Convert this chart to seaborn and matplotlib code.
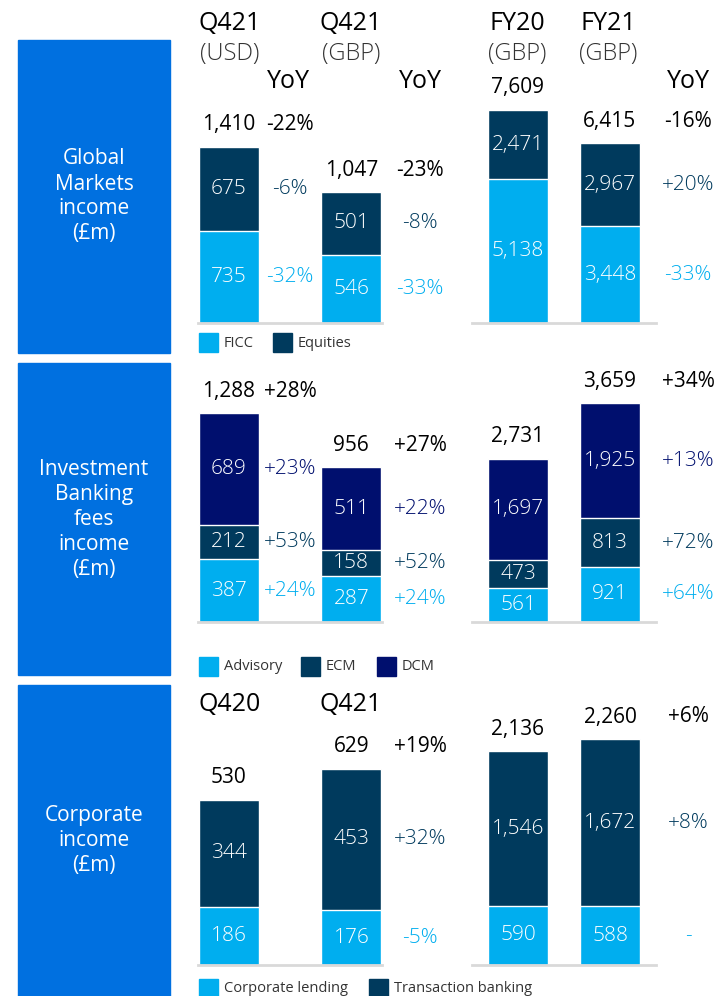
import numpy as np
import pandas as pd
import matplotlib
matplotlib.use("Agg")
import matplotlib.pyplot as plt
from matplotlib.patches import Rectangle
import seaborn as sns

W, H = 715, 996

# cores
LIGHT = "#00AEEF"
NAVY = "#003A5D"
DCM_BLUE = "#000F6E"
BOX_BLUE = "#0070E0"
BASE_GREY = "#D9D9D9"

# Global Markets
GM_Q_PERIODS = ["Q421 (USD)", "Q421 (GBP)"]
GM_Q_FICC = [735, 546]
GM_Q_EQUITIES = [675, 501]
GM_Q_TOTAL = [1410, 1047]
GM_Q_YOY_USD = ["-32%", "-6%", "-22%"]   # FICC, Equities, total
GM_Q_YOY_GBP = ["-33%", "-8%", "-23%"]
GM_FY_PERIODS = ["FY20", "FY21"]
GM_FY_FICC = [5138, 3448]
GM_FY_EQUITIES = [2471, 2967]
GM_FY_TOTAL = [7609, 6415]
GM_FY_YOY = ["-33%", "+20%", "-16%"]

# Investment Banking fees
IB_Q_ADVISORY = [387, 287]
IB_Q_ECM = [212, 158]
IB_Q_DCM = [689, 511]
IB_Q_TOTAL = [1288, 956]
IB_Q_YOY_USD = ["+24%", "+53%", "+23%", "+28%"]   # Advisory, ECM, DCM, total
IB_Q_YOY_GBP = ["+24%", "+52%", "+22%", "+27%"]
IB_FY_ADVISORY = [561, 921]
IB_FY_ECM = [473, 813]
IB_FY_DCM = [1697, 1925]
IB_FY_TOTAL = [2731, 3659]
IB_FY_YOY = ["+64%", "+72%", "+13%", "+34%"]

# Corporate
CO_Q_PERIODS = ["Q420", "Q421"]
CO_Q_LENDING = [186, 176]
CO_Q_TRANSACTION = [344, 453]
CO_Q_TOTAL = [530, 629]
CO_Q_YOY = ["-5%", "+32%", "+19%"]   # lending, transaction, total
CO_FY_LENDING = [590, 588]
CO_FY_TRANSACTION = [1546, 1672]
CO_FY_TOTAL = [2136, 2260]
CO_FY_YOY = ["-", "+8%", "+6%"]

sns.set_style("white")
plt.rcParams["font.family"] = ["Open Sans", "DejaVu Sans"]

fig = plt.figure(figsize=(W / 100, H / 100), dpi=100)


def fx(x):
    return x / W


def fy(y):
    return 1 - y / H


def draw_panel(x0, base, scale, xlim, width, cats, segments, colors, totals, yoy_sets, h=300):
    ax = fig.add_axes([fx(x0), fy(base), 184 / W, h / H])
    ax.patch.set_visible(False)
    cum = np.cumsum(np.array(segments), axis=0)
    # barras empilhadas: total primeiro, depois as partes de baixo por cima
    for i in reversed(range(len(segments))):
        df = pd.DataFrame({"period": cats, "value": cum[i]})
        sns.barplot(data=df, x="period", y="value", color=colors[i], width=width,
                    saturation=1, errorbar=None, edgecolor="white", linewidth=1, ax=ax)
    for j in range(len(cats)):
        for i, seg in enumerate(segments):
            mid = cum[i][j] - seg[j] / 2
            ax.text(j, mid, f"{seg[j]:,}", color="white", ha="center", va="center",
                    fontsize=15, fontweight="light")
        ax.annotate(f"{totals[j]:,}", (j, totals[j]), xytext=(0, 22), annotation_clip=False,
                    textcoords="offset pixels", ha="center", va="center", fontsize=15, color="black")
    for j, xpos, labels in yoy_sets:
        for i, seg in enumerate(segments):
            mid = cum[i][j] - seg[j] / 2
            ax.text(xpos, mid, labels[i], color=colors[i], ha="center", va="center",
                    fontsize=15, fontweight="light")
        ax.annotate(labels[-1], (xpos, totals[j]), xytext=(0, 22), annotation_clip=False,
                    textcoords="offset pixels", ha="center", va="center", fontsize=15, color="black")
    ax.set_xlim(*xlim)
    ax.set_ylim(0, h / scale)
    for s in ["top", "left", "right"]:
        ax.spines[s].set_visible(False)
    ax.spines["bottom"].set_color(BASE_GREY)
    ax.spines["bottom"].set_linewidth(2)
    ax.set_xticks([])
    ax.set_yticks([])
    ax.set_xlabel("")
    ax.set_ylabel("")
    return ax


LEFT_X, LEFT_LIM, LEFT_W = 198, (-0.25, 1.25), 0.49
RIGHT_X, RIGHT_LIM, RIGHT_W = 472, (-0.5, 1.5), 0.652
YOY_A, YOY_B, YOY_R = 0.5, 1.56, 1.85

# caixas azuis da esquerda
for top, bottom, label in [(40, 353, "Global\nMarkets\nincome\n(£m)"),
                           (363, 675, "Investment\nBanking\nfees\nincome\n(£m)"),
                           (685, 996, "Corporate\nincome\n(£m)")]:
    fig.patches.append(Rectangle((fx(18), fy(bottom)), 152 / W, (bottom - top) / H,
                                 transform=fig.transFigure, color=BOX_BLUE, zorder=0))
    fig.text(fx(94), fy((top + bottom) / 2), label, color="white", ha="center", va="center",
             fontsize=15, linespacing=1.25)

# linha 1: Global Markets
gm_colors = [LIGHT, NAVY]
draw_panel(LEFT_X, 323, 0.125, LEFT_LIM, LEFT_W, GM_Q_PERIODS, [GM_Q_FICC, GM_Q_EQUITIES],
           gm_colors, GM_Q_TOTAL, [(0, YOY_A, GM_Q_YOY_USD), (1, YOY_B, GM_Q_YOY_GBP)])
draw_panel(RIGHT_X, 323, 0.028, RIGHT_LIM, RIGHT_W, GM_FY_PERIODS, [GM_FY_FICC, GM_FY_EQUITIES],
           gm_colors, GM_FY_TOTAL, [(1, YOY_R, GM_FY_YOY)])

# linha 2: Investment Banking
ib_colors = [LIGHT, NAVY, DCM_BLUE]
draw_panel(LEFT_X, 622, 0.162, LEFT_LIM, LEFT_W, GM_Q_PERIODS, [IB_Q_ADVISORY, IB_Q_ECM, IB_Q_DCM],
           ib_colors, IB_Q_TOTAL, [(0, YOY_A, IB_Q_YOY_USD), (1, YOY_B, IB_Q_YOY_GBP)])
draw_panel(RIGHT_X, 622, 0.0598, RIGHT_LIM, RIGHT_W, GM_FY_PERIODS, [IB_FY_ADVISORY, IB_FY_ECM, IB_FY_DCM],
           ib_colors, IB_FY_TOTAL, [(1, YOY_R, IB_FY_YOY)])

# linha 3: Corporate
co_colors = [LIGHT, NAVY]
draw_panel(LEFT_X, 965, 0.312, LEFT_LIM, LEFT_W, CO_Q_PERIODS, [CO_Q_LENDING, CO_Q_TRANSACTION],
           co_colors, CO_Q_TOTAL, [(1, YOY_B, CO_Q_YOY)])
draw_panel(RIGHT_X, 965, 0.1, RIGHT_LIM, RIGHT_W, GM_FY_PERIODS, [CO_FY_LENDING, CO_FY_TRANSACTION],
           co_colors, CO_FY_TOTAL, [(1, YOY_R, CO_FY_YOY)])

# cabecalhos
for x, top, sub in [(230, "Q421", "(USD)"), (351, "Q421", "(GBP)"),
                    (517, "FY20", "(GBP)"), (608, "FY21", "(GBP)")]:
    fig.text(fx(x), fy(23), top, ha="center", va="center", fontsize=18, color="black")
    fig.text(fx(x), fy(54), sub, ha="center", va="center", fontsize=17, color="#333333",
             fontweight="light")
for x in [288, 420, 688]:
    fig.text(fx(x), fy(82), "YoY", ha="center", va="center", fontsize=18, color="black")
for x, lab in [(230, "Q420"), (351, "Q421")]:
    fig.text(fx(x), fy(704), lab, ha="center", va="center", fontsize=18, color="black")

# legendas
legends = [
    (343, [(199, LIGHT, "FICC"), (273, NAVY, "Equities")]),
    (666, [(199, LIGHT, "Advisory"), (301, NAVY, "ECM"), (377, DCM_BLUE, "DCM")]),
    (988, [(199, LIGHT, "Corporate lending"), (369, NAVY, "Transaction banking")]),
]
for yc, items in legends:
    for x, c, lab in items:
        fig.patches.append(Rectangle((fx(x), fy(yc + 9.5)), 19 / W, 19 / H,
                                     transform=fig.transFigure, color=c))
        fig.text(fx(x + 25), fy(yc), lab, ha="left", va="center", fontsize=10.5, color="#333333")

fig.savefig("out.png", dpi=100, facecolor="white")
